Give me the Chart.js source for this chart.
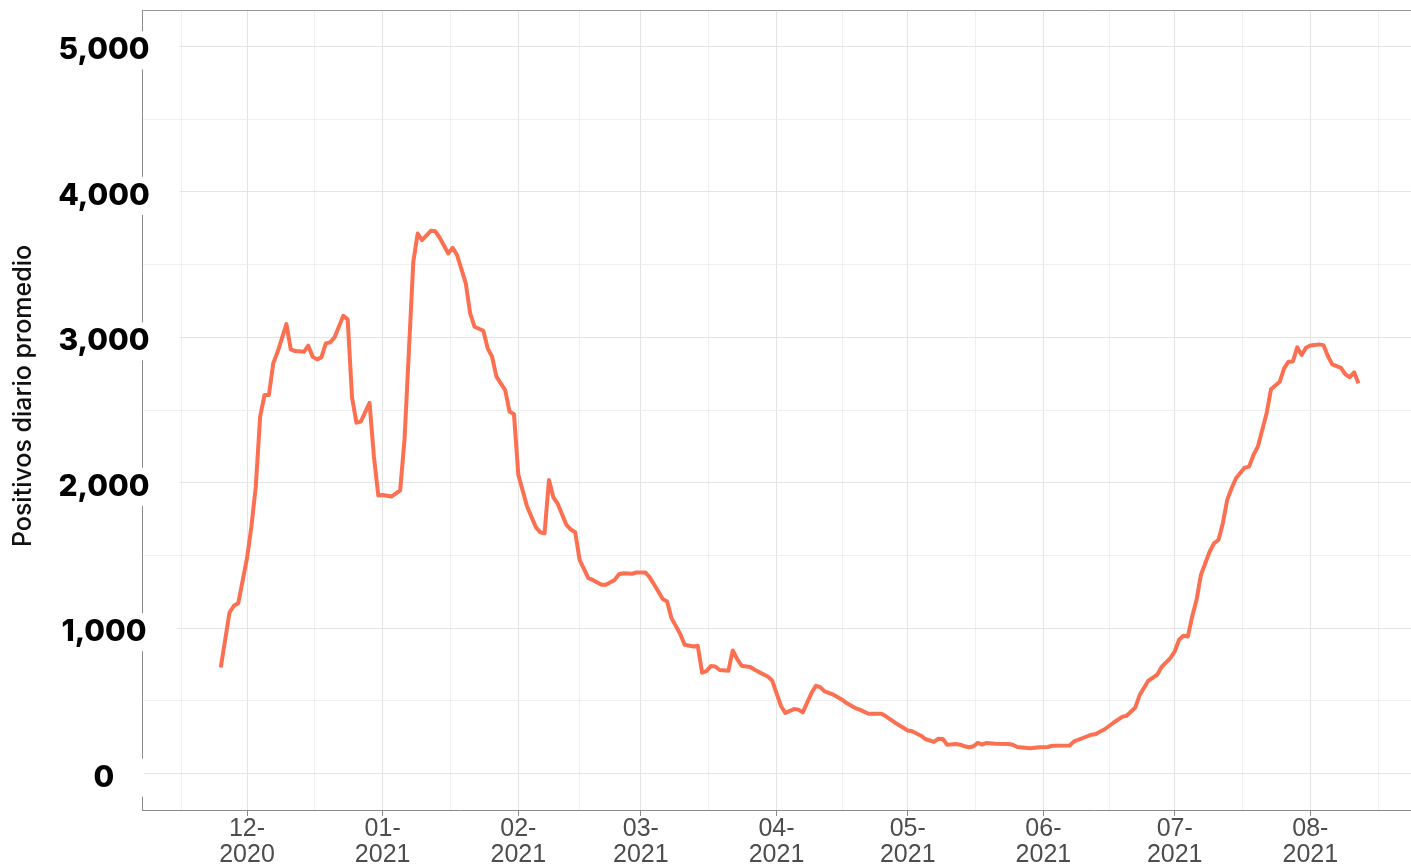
<!DOCTYPE html>
<html lang="es">
<head>
<meta charset="utf-8">
<title>Positivos diario promedio</title>
<script src="https://cdn.jsdelivr.net/npm/chart.js@4.4.1/dist/chart.umd.min.js"></script>
<style>
  html, body { margin: 0; padding: 0; background: #fff; }
  #grafico { display: block; }
</style>
</head>
<body>
<canvas id="grafico" width="1411" height="866"></canvas>
<script>
// ================= DATOS =================
const fechas = [
  '2020-11-25','2020-11-27','2020-11-28','2020-11-29',
  '2020-12-01','2020-12-02','2020-12-03','2020-12-04','2020-12-05','2020-12-06','2020-12-07','2020-12-08',
  '2020-12-10','2020-12-11','2020-12-12','2020-12-14','2020-12-15','2020-12-16','2020-12-17','2020-12-18',
  '2020-12-19','2020-12-20','2020-12-21','2020-12-23','2020-12-24','2020-12-25','2020-12-26','2020-12-27',
  '2020-12-29','2020-12-30','2020-12-31',
  '2021-01-01','2021-01-03','2021-01-05','2021-01-06','2021-01-08','2021-01-09','2021-01-10','2021-01-12',
  '2021-01-13','2021-01-14','2021-01-16','2021-01-17','2021-01-18','2021-01-20','2021-01-21','2021-01-22',
  '2021-01-24','2021-01-25','2021-01-26','2021-01-27','2021-01-29','2021-01-30','2021-01-31',
  '2021-02-01','2021-02-03','2021-02-05','2021-02-06','2021-02-07','2021-02-08','2021-02-09','2021-02-10',
  '2021-02-12','2021-02-13','2021-02-14','2021-02-15','2021-02-17','2021-02-18','2021-02-20','2021-02-21',
  '2021-02-23','2021-02-24','2021-02-25','2021-02-27','2021-02-28',
  '2021-03-02','2021-03-03','2021-03-05','2021-03-06','2021-03-07','2021-03-08','2021-03-10','2021-03-11',
  '2021-03-13','2021-03-14','2021-03-15','2021-03-16','2021-03-17','2021-03-18','2021-03-19','2021-03-21',
  '2021-03-22','2021-03-23','2021-03-24','2021-03-26','2021-03-27','2021-03-28','2021-03-30','2021-03-31',
  '2021-04-01','2021-04-02','2021-04-03','2021-04-05','2021-04-06','2021-04-07','2021-04-09','2021-04-10',
  '2021-04-11','2021-04-12','2021-04-14','2021-04-16','2021-04-17','2021-04-19','2021-04-20','2021-04-22',
  '2021-04-25','2021-04-26','2021-04-28',
  '2021-05-01','2021-05-02','2021-05-04','2021-05-05','2021-05-07','2021-05-08','2021-05-09','2021-05-10',
  '2021-05-12','2021-05-13','2021-05-14','2021-05-15','2021-05-16','2021-05-17','2021-05-18','2021-05-19',
  '2021-05-21','2021-05-24','2021-05-25','2021-05-26','2021-05-29','2021-05-31',
  '2021-06-02','2021-06-03','2021-06-07','2021-06-08','2021-06-10','2021-06-12','2021-06-13','2021-06-14',
  '2021-06-15','2021-06-17','2021-06-19','2021-06-20','2021-06-22','2021-06-23','2021-06-25','2021-06-27',
  '2021-06-28','2021-06-30',
  '2021-07-01','2021-07-02','2021-07-03','2021-07-04','2021-07-05','2021-07-06','2021-07-07','2021-07-09',
  '2021-07-10','2021-07-11','2021-07-12','2021-07-13','2021-07-14','2021-07-15','2021-07-17','2021-07-18',
  '2021-07-19','2021-07-20','2021-07-21','2021-07-22','2021-07-23','2021-07-25','2021-07-26','2021-07-27',
  '2021-07-28','2021-07-29','2021-07-30','2021-07-31',
  '2021-08-01','2021-08-03','2021-08-04','2021-08-05','2021-08-06','2021-08-08','2021-08-09','2021-08-10',
  '2021-08-11','2021-08-12'
];

const positivos = [
  730, 1108, 1154, 1172,
  1481, 1699, 1973, 2454, 2603, 2603, 2821, 2900,
  3091, 2917, 2905, 2900, 2942, 2866, 2848, 2862,
  2958, 2965, 2999, 3148, 3123, 2587, 2413, 2420,
  2550, 2179, 1912,
  1916, 1905, 1948, 2300, 3519, 3713, 3668, 3732,
  3729, 3686, 3576, 3615, 3565, 3370, 3164, 3072,
  3045, 2924, 2866, 2729, 2637, 2488, 2473,
  2054, 1836, 1695, 1660, 1653, 2019, 1900, 1856,
  1710, 1678, 1660, 1470, 1344, 1332, 1298, 1298,
  1332, 1371, 1378, 1374, 1383,
  1383, 1351, 1252, 1200, 1183, 1069, 960, 886,
  874, 879, 694, 705, 740, 737, 712, 707,
  847, 788, 742, 733, 714, 698, 668, 641,
  554, 467, 417, 444, 440, 421, 554, 604,
  595, 565, 543, 508, 485, 451, 440, 412,
  412, 394, 352,
  297, 291, 261, 238, 218, 240, 238, 199,
  204, 199, 188, 181, 188, 211, 199, 211,
  206, 204, 199, 183, 174, 181,
  183, 192, 194, 222, 245, 268, 273, 290,
  305, 350, 390, 398, 455, 540, 640, 680,
  733, 794,
  840, 920, 948, 943, 1080, 1195, 1367, 1527,
  1584, 1607, 1722, 1882, 1962, 2031, 2104, 2111,
  2191, 2248, 2363, 2477, 2642, 2694, 2786, 2832,
  2834, 2931, 2878, 2928,
  2944, 2951, 2946, 2871, 2814, 2790, 2745, 2725,
  2759, 2683
];

// inicio de cada mes (los de los extremos solo sirven para las lineas intermedias)
const meses = ['2020-11-01','2020-12-01','2021-01-01','2021-02-01','2021-03-01','2021-04-01',
               '2021-05-01','2021-06-01','2021-07-01','2021-08-01','2021-09-01'];

const valoresY = [0, 1000, 2000, 3000, 4000, 5000];
const tituloY = 'Positivos diario promedio';

// ================= UTILIDADES =================
const BASE = Date.UTC(2020, 11, 1);
const dia = s => (Date.parse(s + 'T00:00:00Z') - BASE) / 86400000;

const puntos = fechas.map((f, i) => ({ x: dia(f), y: positivos[i] }));

// ticks del eje x: inicio de mes (con etiqueta) + mitad de mes (solo linea)
const ticksX = [];
for (let i = 0; i < meses.length - 1; i++) {
  const a = dia(meses[i]), b = dia(meses[i + 1]);
  if (i > 0) ticksX.push({ value: a, major: true, label: [meses[i].slice(5, 7) + '-', meses[i].slice(0, 4)] });
  ticksX.push({ value: (a + b) / 2, major: false, label: '' });
}
ticksX.sort((p, q) => p.value - q.value);

const ticksY = [];
for (let v = 0; v <= 5000; v += 500) ticksY.push({ value: v });

// etiquetas del eje y sobre recuadro blanco + titulo + borde superior
const decoraciones = {
  id: 'decoraciones',
  afterDraw(chart) {
    const { ctx, chartArea } = chart;
    const y = chart.scales.y;
    ctx.save();

    // borde superior del panel
    ctx.strokeStyle = '#9a9a9a';
    ctx.lineWidth = 1;
    ctx.beginPath();
    ctx.moveTo(chartArea.left, chartArea.top + 0.5);
    ctx.lineTo(chartArea.right, chartArea.top + 0.5);
    ctx.stroke();

    ctx.font = '800 30px Inter, "DejaVu Sans", sans-serif';
    ctx.textAlign = 'center';
    ctx.textBaseline = 'middle';
    const cx = chartArea.left - 38;
    valoresY.forEach(v => {
      const py = y.getPixelForValue(v) + 4;
      const txt = v.toLocaleString('en-US');
      const w = ctx.measureText(txt).width;
      ctx.fillStyle = '#ffffff';
      ctx.fillRect(cx - w / 2 - 10, py - 19, w + 40, 38);
      ctx.fillStyle = '#000000';
      ctx.fillText(txt, cx, py);
    });

    // titulo del eje y
    ctx.translate(23, (chartArea.top + chartArea.bottom) / 2 - 14);
    ctx.rotate(-Math.PI / 2);
    ctx.font = '500 25px Inter, "Open Sans", sans-serif';
    ctx.fillStyle = '#111111';
    ctx.fillText(tituloY, 0, 0);
    ctx.restore();
  }
};

// ================= GRAFICO =================
new Chart(document.getElementById('grafico').getContext('2d'), {
  type: 'line',
  data: {
    datasets: [{
      label: tituloY,
      data: puntos,
      borderColor: '#fc7052',
      borderWidth: 4,
      pointRadius: 0,
      tension: 0,
      borderJoinStyle: 'round',
      borderCapStyle: 'butt',
      fill: false
    }]
  },
  options: {
    responsive: false,
    animation: false,
    devicePixelRatio: 1,
    layout: { padding: { left: 142, top: 10, right: 0, bottom: 0 } },
    plugins: { legend: { display: false }, tooltip: { enabled: false } },
    scales: {
      x: {
        type: 'linear',
        min: -24,
        max: 266,
        afterBuildTicks: s => { s.ticks = ticksX.map(t => ({ value: t.value, major: t.major })); },
        afterFit: s => { s.height = 56; },
        ticks: {
          autoSkip: false,
          maxRotation: 0,
          padding: 0,
          color: '#4d4d4d',
          font: { family: '"Liberation Sans", Arial, sans-serif', size: 25, lineHeight: 1.04 },
          callback: (v, i) => ticksX[i] ? ticksX[i].label : ''
        },
        grid: {
          color: c => (c.tick && c.tick.major) ? '#e4e4e4' : '#efefef',
          lineWidth: 1,
          tickLength: 6,
          tickColor: c => (c.tick && c.tick.major) ? '#8a8a8a' : 'rgba(0,0,0,0)'
        },
        border: { color: '#8a8a8a', width: 1 }
      },
      y: {
        type: 'linear',
        min: -250,
        max: 5250,
        afterBuildTicks: s => { s.ticks = ticksY.map(t => ({ value: t.value })); },
        afterFit: s => { s.width = 0; },
        ticks: { display: false },
        grid: {
          color: c => (c.tick && c.tick.value % 1000 === 0) ? '#e4e4e4' : '#efefef',
          drawTicks: false
        },
        border: { color: '#8a8a8a', width: 1 }
      }
    }
  },
  plugins: [decoraciones]
});
</script>
</body>
</html>
